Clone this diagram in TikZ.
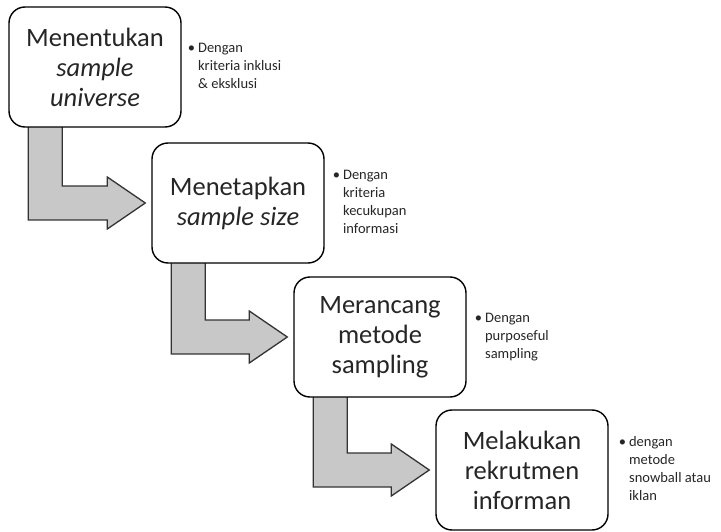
\documentclass[tikz,border=0pt]{standalone}
\usepackage{fontspec}
\setmainfont{Carlito}
\usetikzlibrary{calc,backgrounds}
\definecolor{arrowfill}{HTML}{C8C8C8}
\definecolor{txt}{HTML}{262626}
\begin{document}
\begin{tikzpicture}[x=1pt,y=-1pt,
  stepbox/.style={draw=black, line width=1.4pt, rounded corners=16pt, fill=white,
    minimum width=172pt, minimum height=120pt, align=center, inner sep=0pt,
    font=\fontsize{26.5}{30}\selectfont, text=txt},
  note/.style={anchor=west, inner sep=0pt, font=\fontsize{14.5}{18}\selectfont, text=txt},
  bigarrow/.style={draw=black!80, line width=1.3pt, fill=arrowfill, line join=miter}]
\useasboundingbox (0,0) rectangle (721,532);

\node[stepbox] (b1) at (95,67) {Menentukan\\\textit{sample}\\\textit{universe}};
\node[stepbox] (b2) at (238,203) {Menetapkan\\\textit{sample size}};
\node[stepbox] (b3) at (380,337) {Merancang\\metode\\sampling};
\node[stepbox] (b4) at (522,470) {Melakukan\\rekrutmen\\informan};

\newcommand{\notelist}[1]{\begin{tabular}{@{}l@{\hspace{3pt}}l@{}}#1\end{tabular}}
\node[note] (n1) at ([xshift=6pt]b1.east) {\notelist{\textbullet & Dengan\\ & kriteria inklusi\\ & \& eksklusi}};
\node[note] (n2) at ([xshift=8pt]b2.east) {\notelist{\textbullet & Dengan\\ & kriteria\\ & kecukupan\\ & informasi}};
\node[note] (n3) at ([xshift=8pt]b3.east) {\notelist{\textbullet & Dengan\\ & purposeful\\ & sampling}};
\node[note] (n4) at ([xshift=10pt]b4.east) {\notelist{\textbullet & dengan\\ & metode\\ & snowball atau\\ & iklan}};

\begin{scope}[on background layer]
\foreach \a/\b in {b1/b2, b2/b3, b3/b4}{
  \draw[bigarrow] let \p1=(\a.south west), \p2=(\b.west) in
    (\x1+20pt,\y1+2pt) -- (\x1+54pt,\y1+2pt) -- (\x1+54pt,\y2+17pt) -- (\x2-44pt,\y2+17pt)
    -- (\x2-44pt,\y2+26pt) -- (\x2-6pt,\y2) -- (\x2-44pt,\y2-26pt) -- (\x2-44pt,\y2-17pt)
    -- (\x1+20pt,\y2-17pt) -- cycle;
}
\end{scope}
\end{tikzpicture}
\end{document}
